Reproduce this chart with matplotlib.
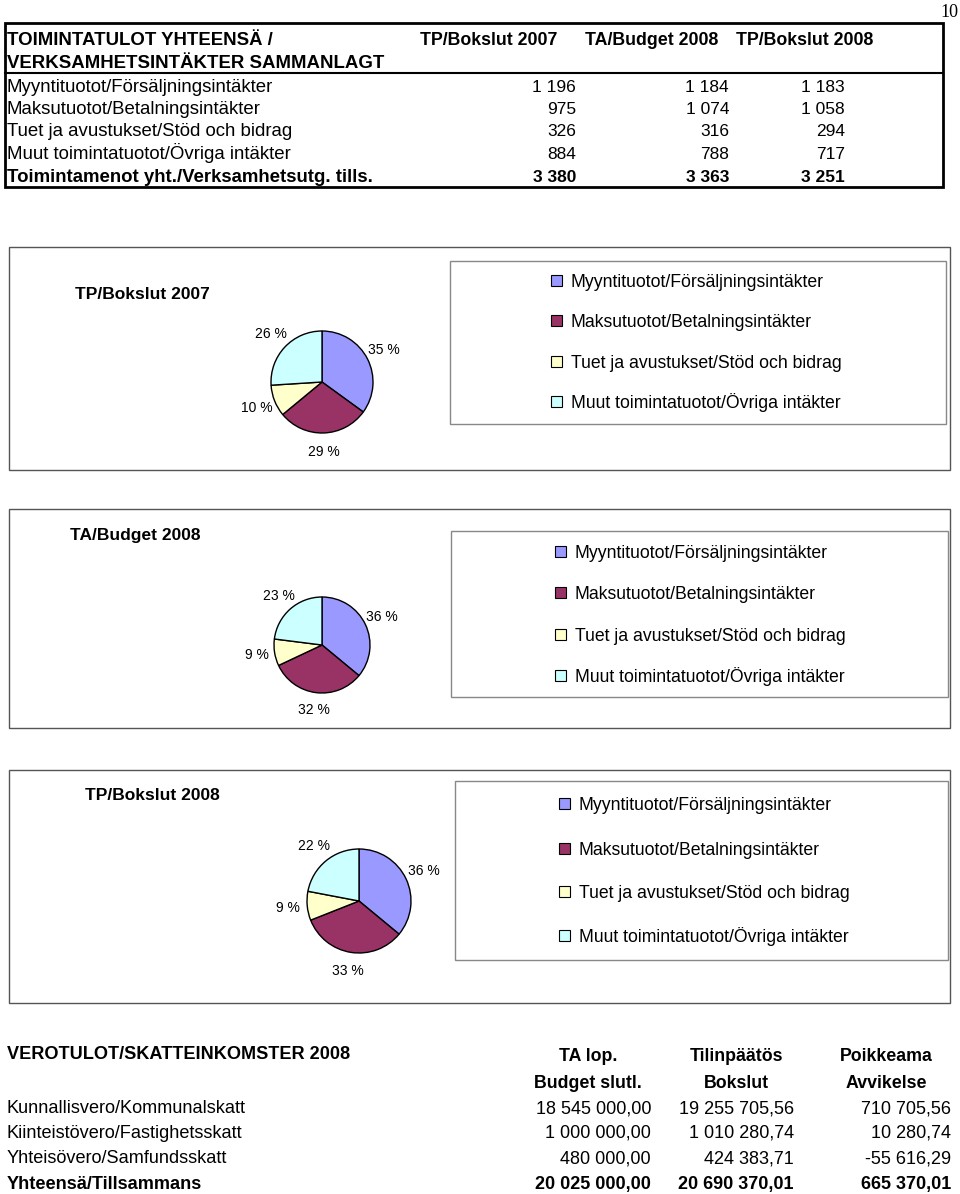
import matplotlib

matplotlib.use("Agg")
import matplotlib.pyplot as plt
from matplotlib.patches import Rectangle

plt.rcParams["font.family"] = ["Liberation Sans", "DejaVu Sans"]

W, H = 960, 1194

# --- data -------------------------------------------------------------
income_labels = [
    "Myyntituotot/Försäljningsintäkter",
    "Maksutuotot/Betalningsintäkter",
    "Tuet ja avustukset/Stöd och bidrag",
    "Muut toimintatuotot/Övriga intäkter",
]
period_labels = ["TP/Bokslut 2007", "TA/Budget 2008", "TP/Bokslut 2008"]
bokslut_2007 = [1196, 975, 326, 884]
budget_2008 = [1184, 1074, 316, 788]
bokslut_2008 = [1183, 1058, 294, 717]
expense_totals = [3380, 3363, 3251]

# pie shares as printed on the chart (%)
share_2007 = [35, 29, 10, 26]
share_budget_2008 = [36, 32, 9, 23]
share_2008 = [36, 33, 9, 22]

pie_colors = ["#9999FF", "#993366", "#FFFFCC", "#CCFFFF"]

tax_labels = [
    "Kunnallisvero/Kommunalskatt",
    "Kiinteistövero/Fastighetsskatt",
    "Yhteisövero/Samfundsskatt",
]
tax_budget = [18545000.00, 1000000.00, 480000.00]
tax_bokslut = [19255705.56, 1010280.74, 424383.71]
tax_diff = [710705.56, 10280.74, -55616.29]
tax_totals = [20025000.00, 20690370.01, 665370.01]


def fmt_int(v):
    return f"{v:,}".replace(",", " ")


def fmt_dec(v):
    return f"{v:,.2f}".replace(",", " ").replace(".", ",")


fig = plt.figure(figsize=(W / 100, H / 100), dpi=100)
ax = fig.add_axes([0, 0, 1, 1])
ax.set_xlim(0, W)
ax.set_ylim(H, 0)
ax.axis("off")

ax.text(958, 17, "10", ha="right", va="baseline", fontsize=13,
        family=["Liberation Serif", "DejaVu Serif"])

# --- top table --------------------------------------------------------
ax.add_patch(Rectangle((5, 23), 938, 164, fill=False, lw=2, ec="black"))
ax.plot([5, 943], [73, 73], color="black", lw=1.5)

fs_lab, fs_num, fs_head = 13.4, 12.5, 12.8
ax.text(7, 45, "TOIMINTATULOT YHTEENSÄ /", fontsize=fs_lab, weight="bold", va="baseline")
ax.text(7, 68, "VERKSAMHETSINTÄKTER SAMMANLAGT", fontsize=fs_lab, weight="bold", va="baseline")
for x, lab in zip([420, 585, 736], period_labels):
    ax.text(x, 45, lab, fontsize=fs_head, weight="bold", va="baseline")

col_right = [576, 729, 845]
row_y = [91.5, 114, 136.5, 159]
for i, (lab, y) in enumerate(zip(income_labels, row_y)):
    ax.text(7, y, lab, fontsize=fs_lab, va="baseline")
    for xr, series in zip(col_right, [bokslut_2007, budget_2008, bokslut_2008]):
        ax.text(xr, y, fmt_int(series[i]), fontsize=fs_num, va="baseline", ha="right")
ax.text(7, 181.5, "Toimintamenot yht./Verksamhetsutg. tills.", fontsize=fs_lab,
        weight="bold", va="baseline")
for xr, v in zip(col_right, expense_totals):
    ax.text(xr, 181.5, fmt_int(v), fontsize=fs_num, weight="bold", va="baseline", ha="right")

# --- pie panels -------------------------------------------------------
panels = [
    # title, shares, panel box, legend box, title pos, pie centre/radius, legend rows, square x
    (period_labels[0], share_2007, (9, 247, 941, 223), (450, 261, 496, 163),
     (75, 293), (322, 382, 51), [281, 321, 362, 402], 557),
    (period_labels[1], share_budget_2008, (9, 509, 941, 219), (451, 531, 497, 166),
     (70, 534), (322, 645, 48), [552, 593, 635, 676], 561),
    (period_labels[2], share_2008, (9, 770, 941, 233), (455, 781, 493, 179),
     (85, 794), (359, 901, 52), [804, 849, 892, 936], 565),
]

for title, shares, pbox, lbox, tpos, (cx, cy, r), leg_y, sq_x in panels:
    ax.add_patch(Rectangle(pbox[:2], pbox[2], pbox[3], fill=False, lw=1, ec="#555555"))
    ax.add_patch(Rectangle(lbox[:2], lbox[2], lbox[3], fill=False, lw=1, ec="#888888"))
    ax.text(tpos[0], tpos[1] + 6, title, fontsize=12.5, weight="bold", va="baseline")

    s = 2.5 * r
    pax = fig.add_axes([(cx - s / 2) / W, 1 - (cy + s / 2) / H, s / W, s / H])
    pax.pie(shares, colors=pie_colors, startangle=90, counterclock=False,
            autopct=lambda p: f"{p:.0f} %", pctdistance=1.37,
            wedgeprops=dict(edgecolor="black", linewidth=1),
            textprops=dict(fontsize=10))

    for y, lab, col in zip(leg_y, income_labels, pie_colors):
        ax.add_patch(Rectangle((sq_x - 6, y - 6), 11, 11, fc=col, ec="black", lw=0.8))
        ax.text(sq_x + 14, y + 6, lab, fontsize=12.7, va="baseline")

# --- tax table --------------------------------------------------------
fs2_lab, fs2_num, fs2_head = 13.1, 13.0, 12.8
ax.text(7, 1059, "VEROTULOT/SKATTEINKOMSTER 2008", fontsize=fs2_lab, weight="bold",
        va="baseline")
for xc, h1, h2 in zip([588, 736, 886],
                      ["TA lop.", "Tilinpäätös", "Poikkeama"],
                      ["Budget slutl.", "Bokslut", "Avvikelse"]):
    ax.text(xc, 1061, h1, fontsize=fs2_head, weight="bold", va="baseline", ha="center")
    ax.text(xc, 1088, h2, fontsize=fs2_head, weight="bold", va="baseline", ha="center")

tax_right = [651, 794, 951]
for i, (lab, y) in enumerate(zip(tax_labels, [1113, 1138, 1163])):
    ax.text(7, y, lab, fontsize=fs2_lab, va="baseline")
    for xr, series in zip(tax_right, [tax_budget, tax_bokslut, tax_diff]):
        ax.text(xr, y, fmt_dec(series[i]), fontsize=fs2_num, va="baseline", ha="right")
ax.text(7, 1189, "Yhteensä/Tillsammans", fontsize=fs2_lab, weight="bold", va="baseline")
for xr, v in zip(tax_right, tax_totals):
    ax.text(xr, 1189, fmt_dec(v), fontsize=fs2_num, weight="bold", va="baseline", ha="right")

fig.savefig("out.png", dpi=100)
